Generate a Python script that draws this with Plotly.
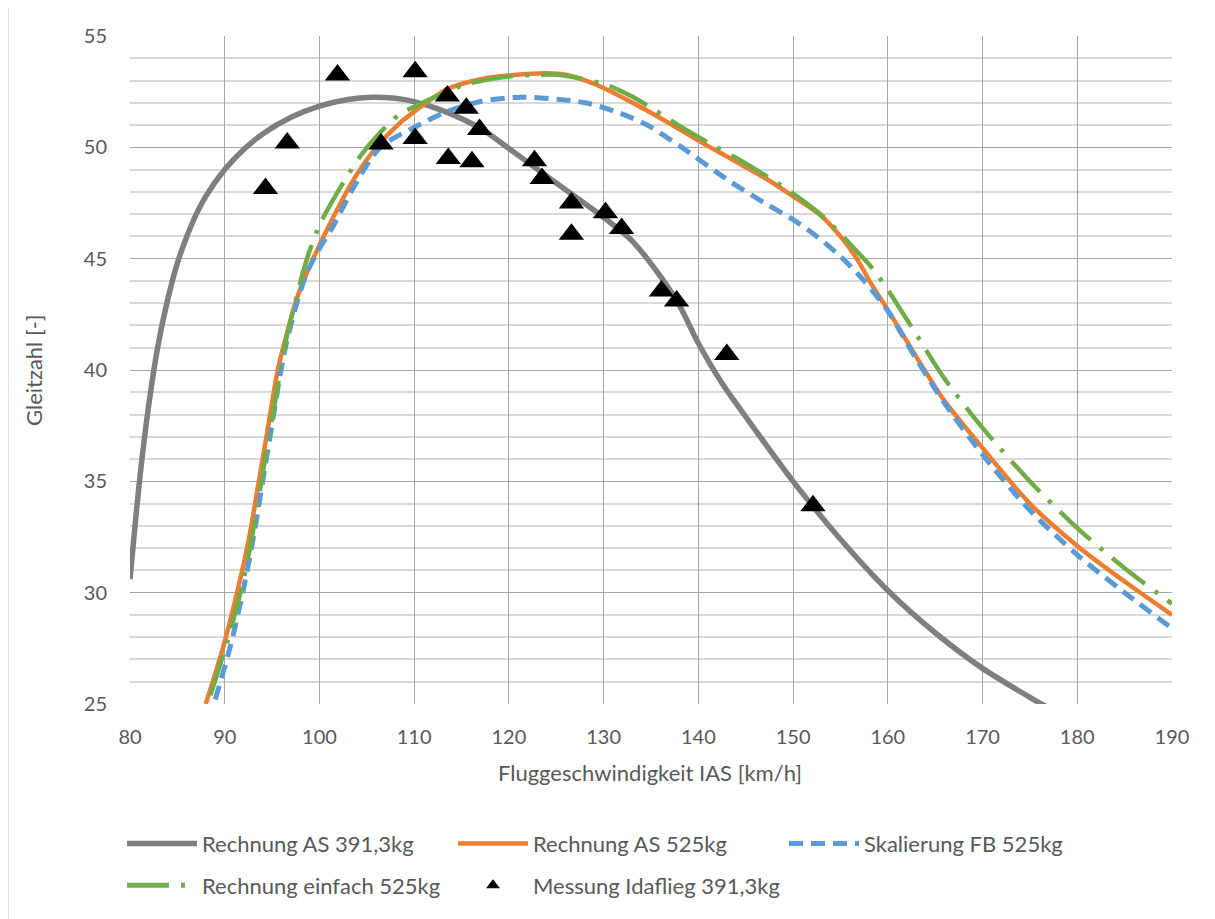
import plotly.graph_objects as go

# ---------------- data ----------------
gray_x = [80, 81, 82, 83, 84, 85, 86, 87, 88, 90, 92, 94, 97, 100, 103, 105.5, 108,
          110, 113, 117, 120, 124, 127.6, 130, 133, 136, 138, 140, 142.5, 145, 150, 155,
          160, 165, 170, 175, 177.5]
gray_y = [30.6, 35.0, 38.5, 41.2, 43.2, 44.8, 46.0, 47.0, 47.8, 49.0, 49.9, 50.6, 51.35, 51.85, 52.15, 52.25, 52.2,
          52.05, 51.65, 50.85, 49.95, 48.7, 47.6, 46.85, 45.8, 44.2, 42.9, 41.2, 39.4, 37.9, 35.0, 32.4,
          30.1, 28.2, 26.6, 25.3, 24.7]

orange_x = [88.0, 89.8, 91.3, 92.5, 93.6, 94.6, 95.6, 96.6, 97.6, 98.8, 100, 101.5, 103.6, 106, 108.5, 110,
            113.4, 117, 120.5, 124, 126.1, 129.3, 132.8, 136.3, 140, 144, 147.5, 150, 152.9, 155, 156.8,
            158.2, 160, 163, 166, 170, 175, 180, 185, 190]
orange_y = [25.0, 27.5, 30.0, 32.3, 35.0, 37.5, 40.0, 41.7, 43.2, 44.5, 45.6, 46.9, 48.55, 50.0, 51.1, 51.6,
            52.6, 53.06, 53.25, 53.33, 53.25, 52.8, 52.06, 51.24, 50.3, 49.35, 48.5, 47.8, 46.95, 46.0, 44.95,
            43.9, 42.7, 40.6, 38.6, 36.5, 34.0, 32.1, 30.5, 29.0]

blue_x = [89.0, 90.6, 92.0, 93.2, 94.2, 95.2, 96.2, 97.4, 98.7, 100, 101.5, 103.6, 106.4, 109.9, 113.4,
          117, 121.2, 125.1, 128.2, 131.7, 134.6, 138.1, 143.4, 147, 150, 152.5, 155, 157.5, 160, 163, 166,
          170, 175, 180, 185, 190]
blue_y = [25.2, 27.6, 30.2, 32.9, 35.5, 38.1, 40.6, 42.7, 44.4, 45.45, 46.5, 48.2, 50.0, 50.87, 51.6,
          52.06, 52.25, 52.16, 51.99, 51.54, 51.0, 50.04, 48.45, 47.5, 46.75, 46.0, 45.1, 44.0, 42.65, 40.5, 38.5,
          36.2, 33.7, 31.7, 30.0, 28.4]

green_x = [88.5, 90.4, 92.0, 93.3, 94.1, 95.2, 95.9, 96.6, 97.5, 98.2, 99.0, 100.1, 102.7, 104.3, 106.05,
           108.5, 109.9, 112.4, 115.2, 119.8, 122.6, 125.4, 130.3, 133, 135.3, 138.1, 141.5, 144.5, 148.7,
           151, 153.4, 156.8, 158.5, 160, 163, 166, 170, 175, 180, 185, 190]
green_y = [25.4, 28.0, 30.6, 33.5, 35.6, 38.3, 40.0, 41.6, 43.1, 44.3, 45.4, 46.6, 48.55, 49.6, 50.5,
           51.5, 51.8, 52.3, 52.8, 53.18, 53.25, 53.25, 52.8, 52.28, 51.7, 50.94, 50.1, 49.4, 48.3,
           47.62, 46.8, 45.3, 44.5, 43.6, 41.6, 39.6, 37.4, 35.0, 32.9, 31.1, 29.5]

meas_x = [94.3, 96.6, 101.9, 106.5, 110.1, 110.1, 113.5, 113.6, 115.5, 116.1, 116.9, 122.7, 123.5,
          126.6, 126.6, 130.2, 131.9, 136.1, 137.7, 143.0, 152.1]
meas_y = [48.15, 50.2, 53.25, 50.15, 53.4, 50.4, 52.3, 49.5, 51.75, 49.35, 50.8, 49.4, 48.6,
          47.5, 46.1, 47.06, 46.35, 43.55, 43.1, 40.7, 33.9]

names = ["Rechnung AS 391,3kg", "Rechnung AS 525kg", "Skalierung FB 525kg",
         "Rechnung einfach 525kg", "Messung Idaflieg 391,3kg"]

x_title = "Fluggeschwindigkeit IAS [km/h]"
y_title = "Gleitzahl [-]"

# ---------------- figure ----------------
FONT = "Lato, 'Open Sans', sans-serif"
TXT = "#595959"

fig = go.Figure()
fig.add_trace(go.Scatter(x=gray_x, y=gray_y, mode="lines", name=names[0], legend="legend",
                         line=dict(color="#7f7f7f", width=5.5, shape="spline", smoothing=0.8)))
fig.add_trace(go.Scatter(x=orange_x, y=orange_y, mode="lines", name=names[1], legend="legend",
                         line=dict(color="#ed7d31", width=4.5, shape="spline", smoothing=0.8)))
fig.add_trace(go.Scatter(x=blue_x, y=blue_y, mode="lines", name=names[2], legend="legend",
                         line=dict(color="#5b9bd5", width=5, shape="spline", smoothing=0.8, dash="14px,8px")))
fig.add_trace(go.Scatter(x=green_x, y=green_y, mode="lines", name=names[3], legend="legend2",
                         line=dict(color="#70ad47", width=4.5, shape="spline", smoothing=0.8,
                                   dash="42px,12px,4px,12px")))
fig.add_trace(go.Scatter(x=meas_x, y=meas_y, mode="markers", name=names[4], legend="legend2",
                         marker=dict(symbol="triangle-up", size=22, color="#000000")))

# page offset of 8 px (body margin) is absorbed in the margins
OFF = 8
PL, PR, PT, PB = 130, 1172, 36, 706          # plot area in page pixels
W, H = 1215 - OFF, 919 - OFF
L, T = PL - OFF, PT - OFF
R, B = W - (PR - OFF), H - (PB - OFF)
pw, ph = PR - PL, PB - PT

def fx(p):
    return (p - PL) / pw

def fy(p):
    return (PB - p) / ph

fig.add_shape(type="rect", xref="paper", yref="paper",
              x0=fx(8), x1=fx(1210), y0=fy(935), y1=fy(6),
              line=dict(color="#d9d9d9", width=1.5), layer="below")

fig.add_annotation(xref="paper", yref="paper", x=fx(650), y=fy(775), text=x_title,
                   showarrow=False, font=dict(size=22, color=TXT), xanchor="center", yanchor="middle")
fig.add_annotation(xref="paper", yref="paper", x=fx(33), y=fy(371), text=y_title, textangle=-90,
                   showarrow=False, font=dict(size=22, color=TXT), xanchor="center", yanchor="middle")

leg_common = dict(orientation="h", xanchor="left", yanchor="middle",
                  font=dict(size=22, color=TXT), itemwidth=70,
                  entrywidth=246, entrywidthmode="pixels", bgcolor="rgba(0,0,0,0)")

fig.update_layout(
    width=W, height=H,
    margin=dict(l=L, r=R, t=T, b=B),
    paper_bgcolor="white", plot_bgcolor="white",
    font=dict(family=FONT, color=TXT, size=18),
    showlegend=True,
    legend=dict(x=fx(122), y=fy(846), **leg_common),
    legend2=dict(x=fx(122), y=fy(888), itemsizing="constant", **leg_common),
    xaxis=dict(range=[80, 190], dtick=10, tick0=80, showgrid=True, gridcolor="#a6a6a6", gridwidth=1.2,
               zeroline=False, showline=False, ticks="", tickfont=dict(size=20, color=TXT),
               ticklabelstandoff=19),
    yaxis=dict(range=[25, 55], dtick=5, tick0=25, showgrid=True, gridcolor="#a6a6a6", gridwidth=1.2,
               zeroline=False, showline=False, ticks="", tickfont=dict(size=20, color=TXT),
               ticklabelstandoff=22,
               minor=dict(dtick=1, showgrid=True, gridcolor="#d9d9d9", gridwidth=1.5)),
)

fig.write_html("out.html")
